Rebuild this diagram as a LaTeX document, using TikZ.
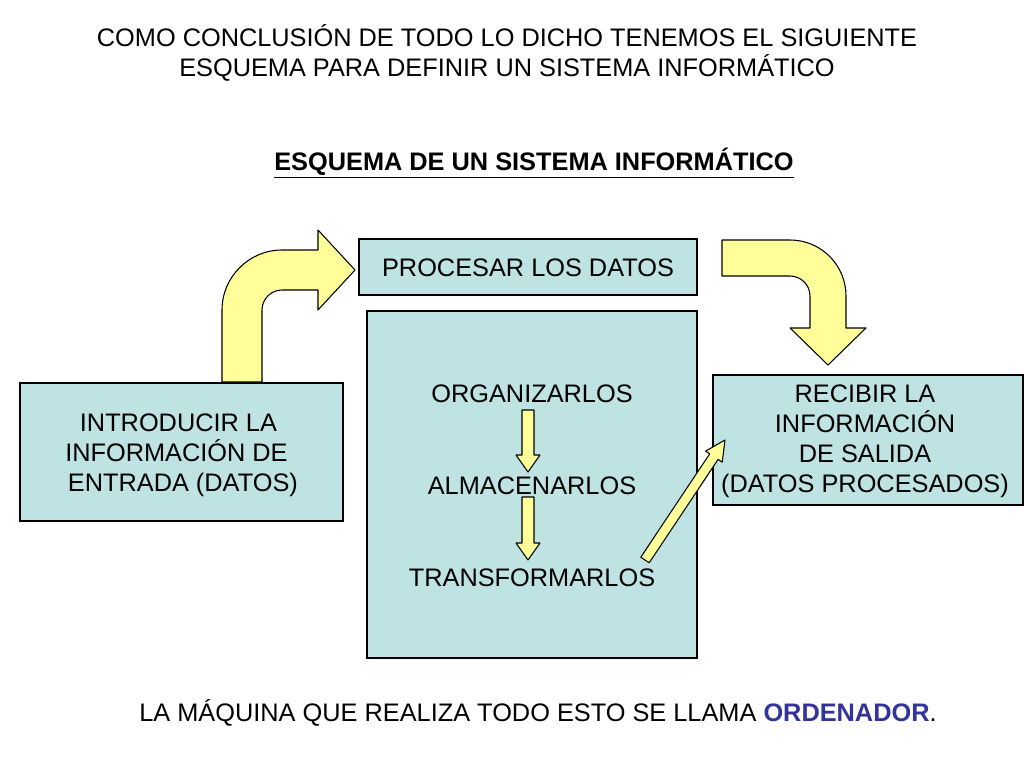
\documentclass[tikz,border=0pt]{standalone}
\usepackage{fontspec}
\setmainfont{Liberation Sans}
\usepackage{xcolor}
\definecolor{boxfill}{HTML}{BFE3E3}
\definecolor{arrfill}{HTML}{FFFF99}
\definecolor{ordblue}{HTML}{333399}
\begin{document}
\begin{tikzpicture}[x=0.75pt,y=-0.75pt,
  txt/.style={font=\fontsize{19}{22.5}\selectfont, inner sep=0pt},
  boxs/.style={draw=black, fill=boxfill, line width=1.5pt},
  yarr/.style={draw=black, fill=arrfill, line width=0.8pt, line join=round}]
\useasboundingbox (0,0) rectangle (1024,768);
\fill[white] (0,0) rectangle (1024,768);
\node[txt, align=center] (title) at (507,53) {COMO CONCLUSIÓN DE TODO LO DICHO TENEMOS EL SIGUIENTE\\ESQUEMA PARA DEFINIR UN SISTEMA INFORMÁTICO};
\node[txt, font=\fontsize{19}{22.5}\selectfont\bfseries] (head) at (534,163) {\underline{ESQUEMA DE UN SISTEMA INFORMÁTICO}};
% boxes
\draw[boxs, line width=2.2pt] (359,239) rectangle (697,295);
\node[txt] (proc) at (528,268) {PROCESAR LOS DATOS};
\draw[boxs, line width=1pt] (367,311) rectangle (697,658);
\node[txt] (org) at (532,394) {ORGANIZARLOS};
\node[txt] (alm) at (532,486) {ALMACENARLOS};
\node[txt] (tra) at (532,578) {TRANSFORMARLOS};
\draw[boxs] (20,383) rectangle (343,521);
\node[txt, align=left, anchor=west] (intro) at (65,455) {\hspace{11pt}INTRODUCIR LA\\INFORMACIÓN DE\\ \hspace{2pt}ENTRADA (DATOS)};
\draw[boxs] (713,375) rectangle (1023,505);
\node[txt, align=center] (rec) at (865,441) {RECIBIR LA\\INFORMACIÓN\\DE SALIDA\\(DATOS PROCESADOS)};
% curved arrows
\draw[yarr] (222,382) -- (222,310) .. controls (222,277) and (249,250) .. (282,250) -- (318,250) -- (318,230) -- (355,270) -- (318,310) -- (318,290) -- (282,290) .. controls (271,290) and (262,299) .. (262,310) -- (262,382) -- cycle;
\draw[yarr] (722,240) -- (790,240) .. controls (821,240) and (846,265) .. (846,296) -- (846,328) -- (866,328) -- (828,365) -- (790,328) -- (810,328) -- (810,296) .. controls (810,285) and (801,276) .. (790,276) -- (722,276) -- cycle;
% small arrows
\draw[yarr] (522,410) -- (534,410) -- (534,455) -- (540,455) -- (528,472) -- (516,455) -- (522,455) -- cycle;
\draw[yarr] (522,497) -- (534,497) -- (534,543) -- (540,543) -- (528,560) -- (516,543) -- (522,543) -- cycle;
\draw[yarr] (640.8,557.2) -- (649.2,562.8) -- (718.1,459.4) -- (722.2,462.1) -- (725,440) -- (705.6,451.1) -- (709.7,453.8) -- cycle;
\node[txt] (bottom) at (538,713) {LA MÁQUINA QUE REALIZA TODO ESTO SE LLAMA \textcolor{ordblue}{\textbf{ORDENADOR}}.};
\end{tikzpicture}
\end{document}
